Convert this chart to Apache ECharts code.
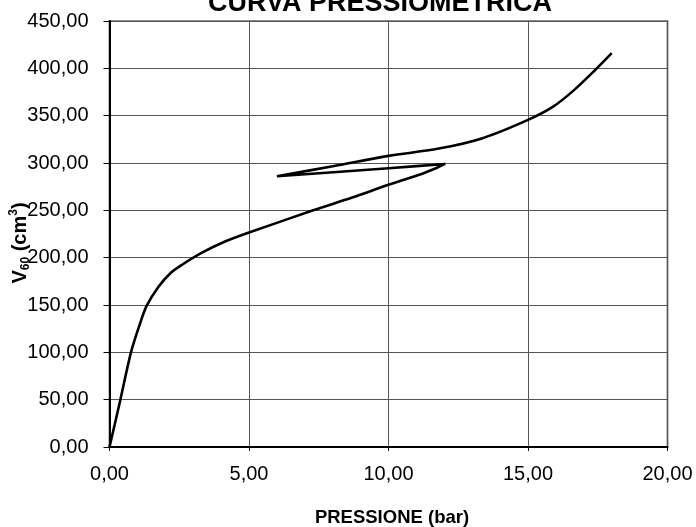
<!DOCTYPE html>
<html>
<head>
<meta charset="utf-8">
<script src="https://cdn.jsdelivr.net/npm/echarts@6/dist/echarts.min.js"></script>
<style>
  html, body { margin: 0; padding: 0; background: #fff; }
  #chart { width: 696px; height: 527px; }
</style>
</head>
<body>
<div id="chart"></div>
<script>
// Pressuremeter test: applied pressure (bar) and injected volume V60 (cm3),
// loading to 12 bar, unloading to 6 bar, then reloading to 18 bar.
const pressure = [
  0, 0.39, 0.77, 1.09, 1.33, 1.75, 2.2, 2.6, 3.3, 4.1, 5.0, 7.3, 8.7, 10.0, 11.1, 11.74, 12.03,
  10.0, 6.0,
  8.0, 10.0, 11.85, 13.4, 15.0, 15.9, 16.65, 17.4, 18.0
];
const volume = [
  0, 50, 100, 130, 149, 169, 184, 192.5, 205, 216.5, 226.5, 250, 263.5, 277, 287.5, 295, 299,
  294.5, 286,
  296.5, 307.5, 315.5, 326.5, 345.5, 359.5, 377, 398, 416
];
const xTicks = [0, 5, 10, 15, 20];
const yTicks = [0, 50, 100, 150, 200, 250, 300, 350, 400, 450];

const FONT = 'Arial, "Liberation Sans", sans-serif';
const fmt = v => v.toFixed(2).replace('.', ',');

const chart = echarts.init(document.getElementById('chart'), null, { renderer: 'canvas' });

chart.setOption({
  animation: false,
  backgroundColor: '#ffffff',
  grid: {
    left: 109.5, right: 28.5, top: 21, bottom: 80,
    show: true, borderColor: '#8a8a8a', borderWidth: 2, backgroundColor: '#ffffff'
  },
  xAxis: {
    type: 'value',
    min: xTicks[0], max: xTicks[xTicks.length - 1], interval: xTicks[1] - xTicks[0],
    axisLine: { show: true, onZero: false, lineStyle: { color: '#000', width: 2 } },
    axisTick: { show: true, inside: false, length: 4, lineStyle: { color: '#000' } },
    axisLabel: { color: '#000', fontFamily: FONT, fontSize: 20, margin: 17, formatter: fmt },
    splitLine: { show: true, lineStyle: { color: '#555', width: 1 } }
  },
  yAxis: {
    type: 'value',
    min: yTicks[0], max: yTicks[yTicks.length - 1], interval: yTicks[1] - yTicks[0],
    axisLine: { show: true, onZero: false, lineStyle: { color: '#000', width: 2 } },
    axisTick: { show: true, inside: false, length: 6, lineStyle: { color: '#000' } },
    axisLabel: { color: '#000', fontFamily: FONT, fontSize: 20, margin: 21, formatter: fmt },
    splitLine: { show: true, lineStyle: { color: '#555', width: 1 } }
  },
  series: [{
    type: 'line',
    data: pressure.map((p, i) => [p, volume[i]]),
    showSymbol: false,
    smooth: 0.3,
    lineStyle: { color: '#000', width: 2.6 },
    z: 5
  }],
  graphic: [
    {
      type: 'text', x: 380, y: 4,
      style: {
        text: 'CURVA PRESSIOMETRICA', fill: '#000',
        font: 'bold 27px ' + FONT, textAlign: 'center', textVerticalAlign: 'middle'
      }
    },
    {
      type: 'text', x: 392, y: 518,
      style: {
        text: 'PRESSIONE (bar)', fill: '#000',
        font: 'bold 18.5px ' + FONT, textAlign: 'center', textVerticalAlign: 'middle'
      }
    },
    {
      type: 'text', x: 20, y: 243, rotation: Math.PI / 2,
      style: {
        text: '{b|V}{sub|60}{b| (cm}{sup|3}{b|)}',
        textAlign: 'center', textVerticalAlign: 'middle',
        rich: {
          b: { fontFamily: FONT, fontWeight: 'bold', fontSize: 20, fill: '#000', lineHeight: 24 },
          sub: { fontFamily: FONT, fontWeight: 'bold', fontSize: 12, fill: '#000', lineHeight: 24, verticalAlign: 'bottom', padding: [9, 0, 0, 0] },
          sup: { fontFamily: FONT, fontWeight: 'bold', fontSize: 12, fill: '#000', lineHeight: 24, verticalAlign: 'top', padding: [0, 0, 9, 0] }
        }
      }
    }
  ]
});
</script>
</body>
</html>
